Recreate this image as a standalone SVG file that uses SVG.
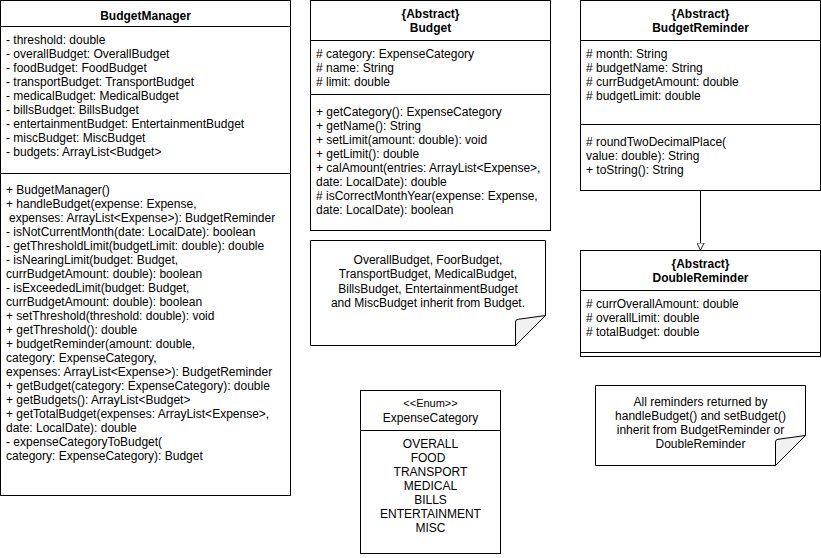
<svg xmlns="http://www.w3.org/2000/svg" width="821" height="558" viewBox="0 0 821 558">
<style>
text{font-family:"Liberation Sans",Arial,sans-serif;font-size:12px;fill:#000}
.b{font-weight:bold}
.c{text-anchor:middle}
.box{fill:#fff;stroke:#000;stroke-width:1}
.ln{fill:none;stroke:#000;stroke-width:1}
.fold{fill:#f1f1f1;stroke:#000;stroke-width:1;stroke-linejoin:round}
</style>
<defs>
<marker id="tri" viewBox="0 0 10 10" refX="10" refY="5" markerWidth="8" markerHeight="8" markerUnits="userSpaceOnUse" orient="auto">
<path d="M0.5,0.5 L9.5,5 L0.5,9.5 Z" fill="#fff" stroke="#000" stroke-width="1.1"/>
</marker>
</defs>
<rect width="821" height="558" fill="#fff"/>

<g id="BudgetManager">
<rect class="box" x="0.5" y="0.5" width="290" height="495"/>
<line class="ln" x1="0.5" y1="26.5" x2="290.5" y2="26.5"/>
<line class="ln" x1="0.5" y1="173.5" x2="290.5" y2="173.5"/>
<text class="b c" x="145.5" y="20">BudgetManager</text>
<text x="6" y="44">- threshold: double</text>
<text x="6" y="58">- overallBudget: OverallBudget</text>
<text x="6" y="72">- foodBudget: FoodBudget</text>
<text x="6" y="86">- transportBudget: TransportBudget</text>
<text x="6" y="100">- medicalBudget: MedicalBudget</text>
<text x="6" y="114">- billsBudget: BillsBudget</text>
<text x="6" y="128">- entertainmentBudget: EntertainmentBudget</text>
<text x="6" y="142">- miscBudget: MiscBudget</text>
<text x="6" y="156">- budgets: ArrayList&lt;Budget&gt;</text>
<text x="6" y="194">+ BudgetManager()</text>
<text x="6" y="208">+ handleBudget(expense: Expense,</text>
<text x="9" y="222">expenses: ArrayList&lt;Expense&gt;): BudgetReminder</text>
<text x="6" y="236">- isNotCurrentMonth(date: LocalDate): boolean</text>
<text x="6" y="250">- getThresholdLimit(budgetLimit: double): double</text>
<text x="6" y="264">- isNearingLimit(budget: Budget,</text>
<text x="6" y="278">currBudgetAmount: double): boolean</text>
<text x="6" y="292">- isExceededLimit(budget: Budget,</text>
<text x="6" y="306">currBudgetAmount: double): boolean</text>
<text x="6" y="320">+ setThreshold(threshold: double): void</text>
<text x="6" y="334">+ getThreshold(): double</text>
<text x="6" y="348">+ budgetReminder(amount: double,</text>
<text x="6" y="362">category: ExpenseCategory,</text>
<text x="6" y="376">expenses: ArrayList&lt;Expense&gt;): BudgetReminder</text>
<text x="6" y="390">+ getBudget(category: ExpenseCategory): double</text>
<text x="6" y="404">+ getBudgets(): ArrayList&lt;Budget&gt;</text>
<text x="6" y="418">+ getTotalBudget(expenses: ArrayList&lt;Expense&gt;,</text>
<text x="6" y="432">date: LocalDate): double</text>
<text x="6" y="446">- expenseCategoryToBudget(</text>
<text x="6" y="460">category: ExpenseCategory): Budget</text>
</g>

<g id="Budget">
<rect class="box" x="310.5" y="0.5" width="240" height="230"/>
<line class="ln" x1="310.5" y1="40.5" x2="550.5" y2="40.5"/>
<line class="ln" x1="310.5" y1="94.5" x2="550.5" y2="94.5"/>
<text class="b c" x="430.5" y="17.5">{Abstract}</text>
<text class="b c" x="430.5" y="32">Budget</text>
<text x="316" y="58"># category: ExpenseCategory</text>
<text x="316" y="72"># name: String</text>
<text x="316" y="86"># limit: double</text>
<text x="316" y="116">+ getCategory(): ExpenseCategory</text>
<text x="316" y="130">+ getName(): String</text>
<text x="316" y="144">+ setLimit(amount: double): void</text>
<text x="316" y="158">+ getLimit(): double</text>
<text x="316" y="172">+ calAmount(entries: ArrayList&lt;Expense&gt;,</text>
<text x="316" y="186">date: LocalDate): double</text>
<text x="316" y="200"># isCorrectMonthYear(expense: Expense,</text>
<text x="316" y="214">date: LocalDate): boolean</text>
</g>

<g id="BudgetReminder">
<rect class="box" x="580.5" y="0.5" width="240" height="190"/>
<line class="ln" x1="580.5" y1="40.5" x2="820.5" y2="40.5"/>
<line class="ln" x1="580.5" y1="124.5" x2="820.5" y2="124.5"/>
<text class="b c" x="700.5" y="17.5">{Abstract}</text>
<text class="b c" x="700.5" y="32">BudgetReminder</text>
<text x="586" y="58"># month: String</text>
<text x="586" y="72"># budgetName: String</text>
<text x="586" y="86"># currBudgetAmount: double</text>
<text x="586" y="100"># budgetLimit: double</text>
<text x="586" y="146"># roundTwoDecimalPlace(</text>
<text x="586" y="160">value: double): String</text>
<text x="586" y="174">+ toString(): String</text>
</g>

<g id="DoubleReminder">
<rect class="box" x="580.5" y="250.5" width="240" height="106"/>
<line class="ln" x1="580.5" y1="290.5" x2="820.5" y2="290.5"/>
<line class="ln" x1="580.5" y1="352.5" x2="820.5" y2="352.5"/>
<text class="b c" x="700.5" y="267.5">{Abstract}</text>
<text class="b c" x="700.5" y="282">DoubleReminder</text>
<text x="586" y="307.5"># currOverallAmount: double</text>
<text x="586" y="321.5"># overallLimit: double</text>
<text x="586" y="335.5"># totalBudget: double</text>
</g>

<g id="NoteBudgets">
<path class="box" d="M310.5,240.5 H545.5 V315.5 L515.5,345.5 H310.5 Z"/>
<path class="fold" d="M515.5,345.5 V322 Q515.5,319.5 518,319.3 L545.5,315.5 Z"/>
<text class="c" x="428" y="264">OverallBudget, FoorBudget,</text>
<text class="c" x="428" y="278.4">TransportBudget, MedicalBudget,</text>
<text class="c" x="428" y="292.8">BillsBudget, EntertainmentBudget</text>
<text class="c" x="428" y="307.2">and MiscBudget inherit from Budget.</text>
</g>

<g id="ExpenseCategory">
<rect class="box" x="360.5" y="390.5" width="140" height="163"/>
<line class="ln" x1="360.5" y1="430.5" x2="500.5" y2="430.5"/>
<text class="c" x="430.5" y="406.5" style="font-size:11px">&lt;&lt;Enum&gt;&gt;</text>
<text class="c" x="430.5" y="421.5">ExpenseCategory</text>
<text class="c" x="430.5" y="447.5">OVERALL</text>
<text class="c" x="428" y="461.5">FOOD</text>
<text class="c" x="430.5" y="475.5">TRANSPORT</text>
<text class="c" x="430.5" y="489.5">MEDICAL</text>
<text class="c" x="430.5" y="503.5">BILLS</text>
<text class="c" x="430.5" y="517.5">ENTERTAINMENT</text>
<text class="c" x="430.5" y="531.5">MISC</text>
</g>

<g id="NoteReminders">
<path class="box" d="M595.5,385.5 H805.5 V435.5 L775.5,465.5 H595.5 Z"/>
<path class="fold" d="M775.5,465.5 V442 Q775.5,439.5 778,439.3 L805.5,435.5 Z"/>
<text class="c" x="700.5" y="405.5">All reminders returned by</text>
<text class="c" x="700.5" y="419.7">handleBudget() and setBudget()</text>
<text class="c" x="700.5" y="433.9">inherit from BudgetReminder or</text>
<text class="c" x="700.5" y="448.1">DoubleReminder</text>
</g>

<g id="connectors">
<line class="ln" x1="700.5" y1="190.5" x2="700.5" y2="250.5" marker-end="url(#tri)"/>
</g>
</svg>
